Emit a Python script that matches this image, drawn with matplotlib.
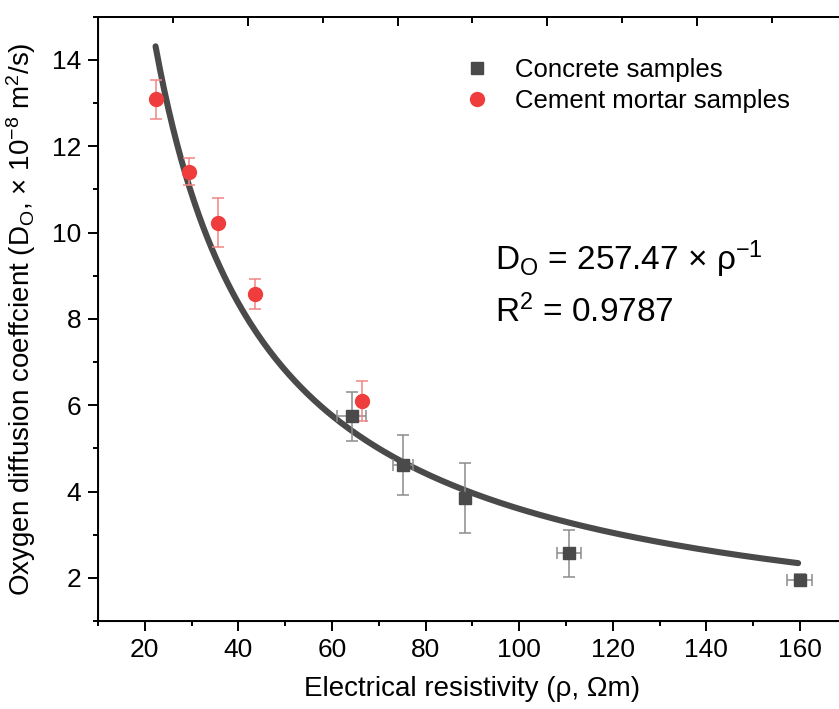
import matplotlib
matplotlib.use("Agg")
import matplotlib.pyplot as plt
import numpy as np

plt.rcParams['font.family'] = ['Liberation Sans', 'DejaVu Sans']
plt.rcParams['mathtext.fontset'] = 'custom'
plt.rcParams['mathtext.rm'] = 'Liberation Sans'
plt.rcParams['mathtext.it'] = 'Liberation Sans'

# Concrete samples
conc_x = [64.2, 75.2, 88.4, 110.6, 159.9]
conc_y = [5.74, 4.61, 3.85, 2.57, 1.94]
conc_xerr = [3.1, 2.1, 1.0, 2.5, 2.6]
conc_yerr = [0.57, 0.70, 0.82, 0.54, 0.14]

# Cement mortar samples
mort_x = [22.3, 29.4, 35.7, 43.5, 66.5]
mort_y = [13.09, 11.41, 10.23, 8.57, 6.09]
mort_yerr = [0.45, 0.32, 0.56, 0.35, 0.46]

# fitted power curve as drawn
fit_a = 249.0
fit_b = -0.92
fit_range = (22.3, 159.6)

eq_text1 = r"D$_{\rm O}$ = 257.47 × ρ$^{-1}$"
eq_text2 = r"R$^{2}$ = 0.9787"

fig = plt.figure(figsize=(8.39, 7.09), dpi=100)
ax = fig.add_axes([0.1168, 0.1241, 0.8925, 0.8523])

dark = '#4a4a4a'
red = '#ef3d3d'

xf = np.linspace(fit_range[0], fit_range[1], 300)
ax.plot(xf, fit_a * xf ** fit_b, color=dark, lw=4.4, solid_capstyle='round', zorder=2)

ax.errorbar(conc_x, conc_y, xerr=conc_xerr, yerr=conc_yerr, fmt='none',
            ecolor='#8c8c8c', elinewidth=1.1, capsize=4, capthick=1.1, zorder=3)
ax.plot(conc_x, conc_y, 's', color=dark, ms=9, ls='none', zorder=4,
        label='Concrete samples')

ax.errorbar(mort_x, mort_y, yerr=mort_yerr, fmt='none',
            ecolor='#f08585', elinewidth=1.1, capsize=4, capthick=1.1, zorder=3)
ax.plot(mort_x, mort_y, 'o', color=red, ms=10, ls='none', zorder=4,
        label='Cement mortar samples')

ax.set_xlim(10, 170)
ax.set_ylim(1, 15)
ax.set_xticks(np.arange(20, 161, 20))
ax.set_xticks(np.arange(10, 171, 10), minor=True)
ax.set_yticks(np.arange(2, 15, 2))
ax.set_yticks(np.arange(1, 16, 1), minor=True)

ax.spines['right'].set_visible(False)
for s in ['left', 'bottom', 'top']:
    ax.spines[s].set_linewidth(1.4)
ax.tick_params(axis='both', which='major', direction='out', length=7, width=1.4,
               labelsize=19, pad=5)
ax.tick_params(axis='both', which='minor', direction='out', length=3.8, width=1.4)
ax.tick_params(top=False, right=False, which='both')

# top axis with its own ticks (inward)
axt = ax.twiny()
axt.set_xlim(0, 5)
axt.set_xticks(np.arange(0, 6, 1))
axt.set_xticks(np.arange(0.5, 5, 1), minor=True)
axt.tick_params(axis='x', which='major', direction='in', length=6.5, width=1.4,
                labeltop=False)
axt.tick_params(axis='x', which='minor', direction='in', length=4.3, width=1.4)
axt.spines['right'].set_visible(False)
axt.spines['top'].set_linewidth(1.4)

ax.set_xlabel('Electrical resistivity (ρ, Ωm)', fontsize=20, labelpad=10)
ax.set_ylabel(r'Oxygen diffusion coeffcient (D$_{\rm O}$, × 10$^{-8}$ m$^{2}$/s)',
              fontsize=20, labelpad=10)

leg = ax.legend(loc='upper left', bbox_to_anchor=(0.475, 0.948), frameon=False,
                fontsize=18.5, handletextpad=1.0, labelspacing=0.25,
                handlelength=1.0, borderaxespad=0)

ax.text(0.53, 0.58, eq_text1, transform=ax.transAxes, fontsize=24, va='baseline')
ax.text(0.53, 0.494, eq_text2, transform=ax.transAxes, fontsize=24, va='baseline')

fig.savefig('out.png', dpi=100)
